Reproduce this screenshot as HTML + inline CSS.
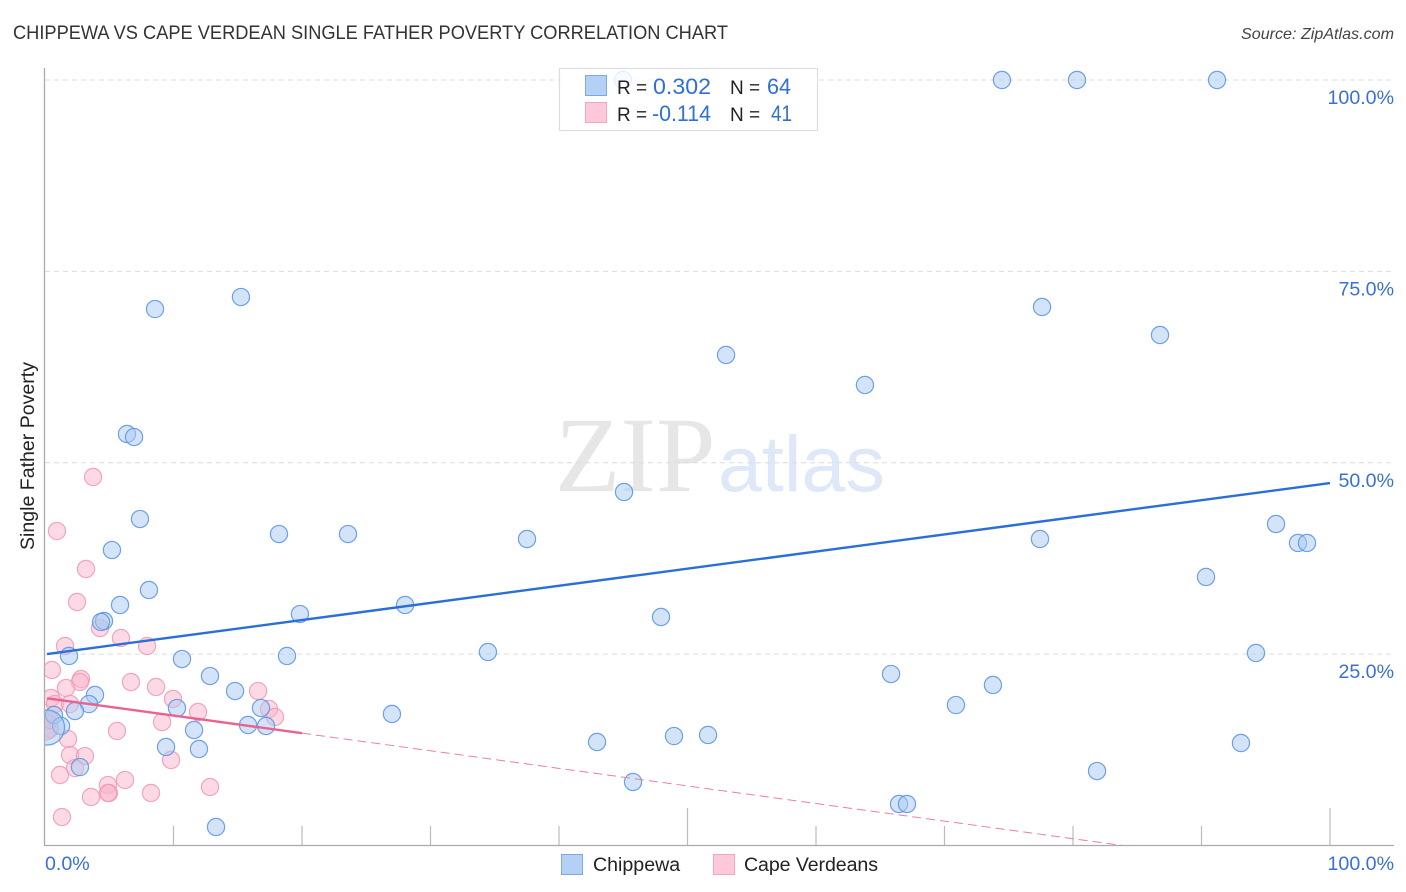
<!DOCTYPE html>
<html lang="en">
<head>
<meta charset="utf-8">
<title>Chippewa vs Cape Verdean Single Father Poverty Correlation Chart</title>
<style>
html,body{margin:0;padding:0;background:#fff;width:1406px;height:892px;overflow:hidden}
svg{display:block;font-family:"Liberation Sans",sans-serif}
</style>
</head>
<body>
<svg id="chart" xmlns="http://www.w3.org/2000/svg" width="1406" height="892" viewBox="0 0 1406 892">
  <defs>
    <clipPath id="plot-clip"><rect x="45" y="60" width="1361" height="786"/></clipPath>
  </defs>
  <text x="13" y="39" font-size="19" fill="#333" textLength="715" lengthAdjust="spacingAndGlyphs">CHIPPEWA VS CAPE VERDEAN SINGLE FATHER POVERTY CORRELATION CHART</text>
  <text x="1394" y="39" font-size="16" font-style="italic" fill="#444" text-anchor="end" textLength="153" lengthAdjust="spacingAndGlyphs">Source: ZipAtlas.com</text>
  <g>
    <text x="555" y="491" font-family="'Liberation Serif',serif" font-size="107" fill="#e6e6e6">ZIP</text>
    <text x="718" y="491" font-size="79" fill="#deE8f8">atlas</text>
  </g>
  <g id="grid"></g>
  <g id="ticks"></g>
  <line x1="44.5" y1="68" x2="44.5" y2="846" stroke="#aaa" stroke-width="1.3"/>
  <line x1="44" y1="845.5" x2="1394" y2="845.5" stroke="#aaa" stroke-width="1.3"/>
  <g id="marks" clip-path="url(#plot-clip)"></g>
  <g id="fits"></g>
  <g id="labels"></g>
  <text transform="translate(34,456) rotate(-90)" font-size="19" fill="#222" text-anchor="middle" textLength="188" lengthAdjust="spacingAndGlyphs">Single Father Poverty</text>

  <g>
    <rect x="559.5" y="68.5" width="258" height="62" fill="#fff" fill-opacity="0.82" stroke="#ddd" stroke-width="1.2"/>
    <rect x="585.5" y="75.5" width="21" height="20" fill="#b5d0f5" stroke="#7da8e2"/>
    <rect x="585.5" y="102.5" width="21" height="20" fill="#fdc8d9" stroke="#f2a7bf"/>
    <text x="617" y="94" font-size="19" fill="#222">R =</text>
    <text x="653" y="94" font-size="22" fill="#2f6fd6" textLength="58" lengthAdjust="spacingAndGlyphs">0.302</text>
    <text x="730" y="94" font-size="19" fill="#222">N =</text>
    <text x="767" y="94" font-size="22" fill="#2f6fd6" textLength="24" lengthAdjust="spacingAndGlyphs">64</text>
    <text x="617" y="121" font-size="19" fill="#222">R =</text>
    <text x="652" y="121" font-size="22" fill="#2f6fd6" textLength="59" lengthAdjust="spacingAndGlyphs">-0.114</text>
    <text x="730" y="121" font-size="19" fill="#222">N =</text>
    <text x="771" y="121" font-size="22" fill="#2f6fd6" textLength="21" lengthAdjust="spacingAndGlyphs">41</text>
  </g>

  <g>
    <rect x="561.5" y="854.5" width="21" height="20" fill="#b5d0f5" stroke="#7da8e2"/>
    <text x="593" y="871" font-size="19.6" fill="#222">Chippewa</text>
    <rect x="713.5" y="854.5" width="21" height="20" fill="#fdc8d9" stroke="#f2a7bf"/>
    <text x="744" y="871" font-size="19.6" fill="#222" textLength="134">Cape Verdeans</text>
  </g>
</svg>
<script>
const chippewaX = [8.56,15.25,6.38,6.93,45.06,44.98,74.47,80.31,91.21,77.59,86.77,53.0,63.81,7.39,18.21,23.58,37.51,5.21,95.8,97.51,98.21,77.43,90.35,8.09,5.84,28.02,19.84,4.59,4.36,47.94,1.87,10.66,18.83,34.47,94.24,12.84,65.84,73.77,14.79,3.89,3.42,70.89,2.33,10.27,27.0,16.81,0.7,15.8,17.2,1.25,11.6,42.96,9.42,11.98,48.95,51.6,93.07,2.72,81.87,45.76,66.46,67.08,13.31,0.16];
const chippewaY = [70.08,71.65,53.76,53.36,46.18,100,100,100,100,70.35,66.69,64.08,60.16,42.65,40.69,40.69,40.04,38.6,42.0,39.52,39.52,40.04,35.08,33.38,31.42,31.42,30.24,29.33,29.2,29.85,24.76,24.36,24.76,25.28,25.15,22.14,22.4,20.97,20.18,19.66,18.48,18.35,17.57,17.96,17.18,17.96,17.05,15.74,15.61,15.61,15.09,13.52,12.87,12.61,14.3,14.44,13.39,10.25,9.73,8.3,5.42,5.42,2.42,15.41];
const capeVerdeanX = [3.74,0.93,3.19,2.49,4.28,5.91,7.94,1.56,0.54,2.8,2.72,1.63,6.69,8.64,9.96,16.58,0.47,0.78,1.95,17.43,17.9,11.91,9.11,5.6,0.39,1.79,1.95,3.11,2.33,1.17,9.81,6.23,4.9,4.98,4.9,3.58,8.25,12.84,1.32,0.0,0.39];
const capeVerdeanY = [48.14,41.08,36.12,31.81,28.41,27.11,26.06,26.06,22.93,21.75,21.36,20.57,21.36,20.71,19.14,20.18,19.27,18.48,18.48,17.83,16.79,17.44,16.13,14.96,15.22,13.91,11.82,11.69,10.12,9.21,11.17,8.56,7.9,6.86,6.86,6.34,6.86,7.64,3.72,15.48,16.39];
const chippewaLargestIndex = 63;
const capeVerdeanLargestIndex = 39;
const chippewaFit = [24.98, 0.2237];
const capeVerdeanFit = [19.27, -0.2298];
const yTickValues = [25, 50, 75, 100];
const xTickValues = [10, 20, 30, 40, 50, 60, 70, 80, 90, 100];
const xMajorTicks = [50, 100];
const xEdgeLabels = [0, 100];

const NS = 'http://www.w3.org/2000/svg';
const xScale = v => 45 + v * 12.85;
const yScale = v => 845.5 - v * 7.655;
const pct = v => v.toFixed(1) + '%';

function svgEl(tag, attrs, parent) {
  const el = document.createElementNS(NS, tag);
  Object.keys(attrs).forEach(k => el.setAttribute(k, attrs[k]));
  parent.appendChild(el);
  return el;
}

const gridGroup = document.getElementById('grid');
const tickGroup = document.getElementById('ticks');
const labelGroup = document.getElementById('labels');
const markGroup = document.getElementById('marks');
const fitGroup = document.getElementById('fits');

yTickValues.forEach(v => {
  const line = svgEl('line', {x1: 45, x2: 1394, y1: yScale(v), y2: yScale(v), stroke: '#dcdcdc', 'stroke-width': 1, 'stroke-dasharray': '5 4'}, gridGroup);
  
  
  const label = svgEl('text', {x: 1394, y: yScale(v) + 24, 'font-size': 19.6, fill: '#3a70d2', 'text-anchor': 'end'}, labelGroup);
  label.textContent = pct(v);
  
  
});

xTickValues.forEach(v => {
  const top = xMajorTicks.includes(v) ? 808 : 826;
  const tick = svgEl('line', {x1: xScale(v), x2: xScale(v), y1: top, y2: 845.5, stroke: '#bbb', 'stroke-width': 1.2}, tickGroup);
  
  
});

xEdgeLabels.forEach(v => {
  const atEnd = v === 100;
  const label = svgEl('text', {x: atEnd ? 1394 : 45, y: 870, 'font-size': 19.6, fill: '#3a70d2', 'text-anchor': atEnd ? 'end' : 'start'}, labelGroup);
  label.textContent = pct(v);
  
  
});

function drawSeries(xs, ys, largest, largeRadius, fill, stroke, name) {
  xs.forEach((x, i) => {
    const r = i === largest ? largeRadius : 8.6;
    const dot = svgEl('circle', {cx: xScale(x), cy: yScale(ys[i]), r: r, fill: fill, 'fill-opacity': 0.5, stroke: stroke, 'stroke-opacity': 0.9, 'stroke-width': 1.2}, markGroup);
    
    
  });
}
drawSeries(capeVerdeanX, capeVerdeanY, capeVerdeanLargestIndex, 13, '#f9b4ca', '#ee9db6', 'cape-verdeans-point');
drawSeries(chippewaX, chippewaY, chippewaLargestIndex, 17.5, '#aac9f1', '#5f97e2', 'chippewa-point');

const fitValue = (fit, x) => fit[0] + fit[1] * x;

const blueLine = svgEl('line', {x1: xScale(0.16), y1: yScale(fitValue(chippewaFit, 0.16)), x2: xScale(100), y2: yScale(fitValue(chippewaFit, 100)), stroke: '#2a6fd8', 'stroke-width': 2.4}, fitGroup);



const pinkLine = svgEl('line', {x1: xScale(0.16), y1: yScale(fitValue(capeVerdeanFit, 0.16)), x2: xScale(20), y2: yScale(fitValue(capeVerdeanFit, 20)), stroke: '#ea6390', 'stroke-width': 2.4}, fitGroup);



const zeroCross = -capeVerdeanFit[0] / capeVerdeanFit[1];
const pinkDash = svgEl('line', {x1: xScale(20), y1: yScale(fitValue(capeVerdeanFit, 20)), x2: xScale(zeroCross), y2: yScale(0), stroke: '#ea7f9f', 'stroke-width': 1, 'stroke-dasharray': '9 5'}, fitGroup);


</script>
</body>
</html>
